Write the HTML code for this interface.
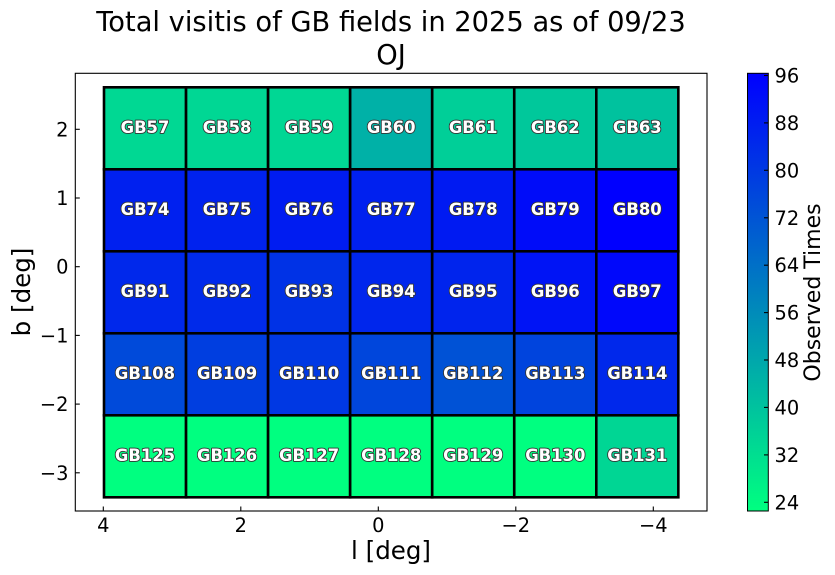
<!DOCTYPE html>
<html><head><meta charset="utf-8"><style>
html,body{margin:0;padding:0;background:#fff;}
svg{display:block;}
text{font-family:"DejaVu Sans","Liberation Sans",sans-serif;}
.cl{font-weight:bold;font-size:16.4px;fill:#fff;stroke:#333;stroke-width:1.8px;paint-order:stroke;stroke-linejoin:round;text-anchor:middle;dominant-baseline:central;}
.tk{font-size:19.4px;fill:#000;}
</style></head><body>
<svg width="835" height="575" viewBox="0 0 835 575" xmlns="http://www.w3.org/2000/svg">
<defs>
<linearGradient id="cb" x1="0" y1="1" x2="0" y2="0">
<stop offset="0" stop-color="#00ff80"/>
<stop offset="1" stop-color="#0000ff"/>
</linearGradient>
</defs>
<rect width="835" height="575" fill="#fff"/>
<!-- title -->
<text x="391" y="31" font-size="27.3" text-anchor="middle">Total visitis of GB fields in 2025 as of 09/23</text>
<text x="391" y="64" font-size="27.3" text-anchor="middle">OJ</text>

<!-- cells -->
<g stroke="#000" stroke-width="2.6">
<rect x="104" y="87.3" width="82.05" height="82" fill="rgb(0,216,147)"/>
<rect x="186.05" y="87.3" width="82.05" height="82" fill="rgb(0,215,148)"/>
<rect x="268.1" y="87.3" width="82.05" height="82" fill="rgb(0,215,148)"/>
<rect x="350.15" y="87.3" width="82.05" height="82" fill="rgb(0,177,167)"/>
<rect x="432.2" y="87.3" width="82.05" height="82" fill="rgb(0,207,152)"/>
<rect x="514.25" y="87.3" width="82.05" height="82" fill="rgb(0,200,155)"/>
<rect x="596.3" y="87.3" width="82.05" height="82" fill="rgb(0,194,158)"/>
<rect x="104" y="169.3" width="82.05" height="82" fill="rgb(0,32,239)"/>
<rect x="186.05" y="169.3" width="82.05" height="82" fill="rgb(0,34,238)"/>
<rect x="268.1" y="169.3" width="82.05" height="82" fill="rgb(0,28,241)"/>
<rect x="350.15" y="169.3" width="82.05" height="82" fill="rgb(0,32,239)"/>
<rect x="432.2" y="169.3" width="82.05" height="82" fill="rgb(0,26,242)"/>
<rect x="514.25" y="169.3" width="82.05" height="82" fill="rgb(0,12,249)"/>
<rect x="596.3" y="169.3" width="82.05" height="82" fill="rgb(0,0,255)"/>
<rect x="104" y="251.3" width="82.05" height="82" fill="rgb(0,40,235)"/>
<rect x="186.05" y="251.3" width="82.05" height="82" fill="rgb(0,42,234)"/>
<rect x="268.1" y="251.3" width="82.05" height="82" fill="rgb(0,50,230)"/>
<rect x="350.15" y="251.3" width="82.05" height="82" fill="rgb(0,38,236)"/>
<rect x="432.2" y="251.3" width="82.05" height="82" fill="rgb(0,36,237)"/>
<rect x="514.25" y="251.3" width="82.05" height="82" fill="rgb(0,20,245)"/>
<rect x="596.3" y="251.3" width="82.05" height="82" fill="rgb(0,8,251)"/>
<rect x="104" y="333.3" width="82.05" height="82" fill="rgb(0,74,218)"/>
<rect x="186.05" y="333.3" width="82.05" height="82" fill="rgb(0,62,224)"/>
<rect x="268.1" y="333.3" width="82.05" height="82" fill="rgb(0,56,227)"/>
<rect x="350.15" y="333.3" width="82.05" height="82" fill="rgb(0,70,220)"/>
<rect x="432.2" y="333.3" width="82.05" height="82" fill="rgb(0,82,214)"/>
<rect x="514.25" y="333.3" width="82.05" height="82" fill="rgb(0,68,221)"/>
<rect x="596.3" y="333.3" width="82.05" height="82" fill="rgb(0,40,235)"/>
<rect x="104" y="415.3" width="82.05" height="82" fill="rgb(0,255,128)"/>
<rect x="186.05" y="415.3" width="82.05" height="82" fill="rgb(0,255,128)"/>
<rect x="268.1" y="415.3" width="82.05" height="82" fill="rgb(0,255,128)"/>
<rect x="350.15" y="415.3" width="82.05" height="82" fill="rgb(0,255,128)"/>
<rect x="432.2" y="415.3" width="82.05" height="82" fill="rgb(0,255,128)"/>
<rect x="514.25" y="415.3" width="82.05" height="82" fill="rgb(0,255,128)"/>
<rect x="596.3" y="415.3" width="82.05" height="82" fill="rgb(0,214,148)"/>
</g>

<!-- cell labels -->
<g>
<text class="cl" x="145" y="127.3">GB57</text>
<text class="cl" x="227.1" y="127.3">GB58</text>
<text class="cl" x="309.1" y="127.3">GB59</text>
<text class="cl" x="391.2" y="127.3">GB60</text>
<text class="cl" x="473.2" y="127.3">GB61</text>
<text class="cl" x="555.3" y="127.3">GB62</text>
<text class="cl" x="637.3" y="127.3">GB63</text>

<text class="cl" x="145" y="209.3">GB74</text>
<text class="cl" x="227.1" y="209.3">GB75</text>
<text class="cl" x="309.1" y="209.3">GB76</text>
<text class="cl" x="391.2" y="209.3">GB77</text>
<text class="cl" x="473.2" y="209.3">GB78</text>
<text class="cl" x="555.3" y="209.3">GB79</text>
<text class="cl" x="637.3" y="209.3">GB80</text>

<text class="cl" x="145" y="291.3">GB91</text>
<text class="cl" x="227.1" y="291.3">GB92</text>
<text class="cl" x="309.1" y="291.3">GB93</text>
<text class="cl" x="391.2" y="291.3">GB94</text>
<text class="cl" x="473.2" y="291.3">GB95</text>
<text class="cl" x="555.3" y="291.3">GB96</text>
<text class="cl" x="637.3" y="291.3">GB97</text>

<text class="cl" x="145" y="373.3">GB108</text>
<text class="cl" x="227.1" y="373.3">GB109</text>
<text class="cl" x="309.1" y="373.3">GB110</text>
<text class="cl" x="391.2" y="373.3">GB111</text>
<text class="cl" x="473.2" y="373.3">GB112</text>
<text class="cl" x="555.3" y="373.3">GB113</text>
<text class="cl" x="637.3" y="373.3">GB114</text>

<text class="cl" x="145" y="455.3">GB125</text>
<text class="cl" x="227.1" y="455.3">GB126</text>
<text class="cl" x="309.1" y="455.3">GB127</text>
<text class="cl" x="391.2" y="455.3">GB128</text>
<text class="cl" x="473.2" y="455.3">GB129</text>
<text class="cl" x="555.3" y="455.3">GB130</text>
<text class="cl" x="637.3" y="455.3">GB131</text>
</g>

<!-- axes frame -->
<rect x="75.3" y="73.3" width="631.7" height="437.7" fill="none" stroke="#000" stroke-width="1.1"/>

<g stroke="#000" stroke-width="1.1">
<line x1="103.3" y1="511" x2="103.3" y2="506.5"/>
<line x1="240.8" y1="511" x2="240.8" y2="506.5"/>
<line x1="378.3" y1="511" x2="378.3" y2="506.5"/>
<line x1="515.8" y1="511" x2="515.8" y2="506.5"/>
<line x1="653.3" y1="511" x2="653.3" y2="506.5"/>
<line x1="75.3" y1="129.3" x2="79.8" y2="129.3"/>
<line x1="75.3" y1="198" x2="79.8" y2="198"/>
<line x1="75.3" y1="266.7" x2="79.8" y2="266.7"/>
<line x1="75.3" y1="335.4" x2="79.8" y2="335.4"/>
<line x1="75.3" y1="404.1" x2="79.8" y2="404.1"/>
<line x1="75.3" y1="472.8" x2="79.8" y2="472.8"/>
</g>

<g class="tk" text-anchor="middle">
<text x="103.3" y="532">4</text>
<text x="240.8" y="532">2</text>
<text x="378.3" y="532">0</text>
<text x="515.8" y="532">−2</text>
<text x="653.3" y="532">−4</text>
</g>
<g class="tk" text-anchor="end">
<text x="68.5" y="136.3">2</text>
<text x="68.5" y="205">1</text>
<text x="68.5" y="273.7">0</text>
<text x="68.5" y="342.4">−1</text>
<text x="68.5" y="411.1">−2</text>
<text x="68.5" y="479.8">−3</text>
</g>

<text x="391" y="559" font-size="24.5" text-anchor="middle">l [deg]</text>
<text transform="translate(30,292) rotate(-90)" font-size="24.5" text-anchor="middle">b [deg]</text>

<!-- colorbar -->
<rect x="747.5" y="73.3" width="20.8" height="437.7" fill="url(#cb)" stroke="#000" stroke-width="1"/>
<g stroke="#000" stroke-width="1.1">
<line x1="768.3" y1="75.5" x2="764" y2="75.5"/>
<line x1="768.3" y1="122.9" x2="764" y2="122.9"/>
<line x1="768.3" y1="170.3" x2="764" y2="170.3"/>
<line x1="768.3" y1="217.8" x2="764" y2="217.8"/>
<line x1="768.3" y1="265.2" x2="764" y2="265.2"/>
<line x1="768.3" y1="312.6" x2="764" y2="312.6"/>
<line x1="768.3" y1="360" x2="764" y2="360"/>
<line x1="768.3" y1="407.4" x2="764" y2="407.4"/>
<line x1="768.3" y1="454.9" x2="764" y2="454.9"/>
<line x1="768.3" y1="502.3" x2="764" y2="502.3"/>
</g>
<g class="tk" text-anchor="start">
<text x="774.5" y="82.5">96</text>
<text x="774.5" y="129.9">88</text>
<text x="774.5" y="177.3">80</text>
<text x="774.5" y="224.8">72</text>
<text x="774.5" y="272.2">64</text>
<text x="774.5" y="319.6">56</text>
<text x="774.5" y="367">48</text>
<text x="774.5" y="414.4">40</text>
<text x="774.5" y="461.9">32</text>
<text x="774.5" y="509.3">24</text>
</g>
<text transform="translate(820,292.5) rotate(-90)" font-size="22" text-anchor="middle">Observed Times</text>
</svg>
</body></html>
